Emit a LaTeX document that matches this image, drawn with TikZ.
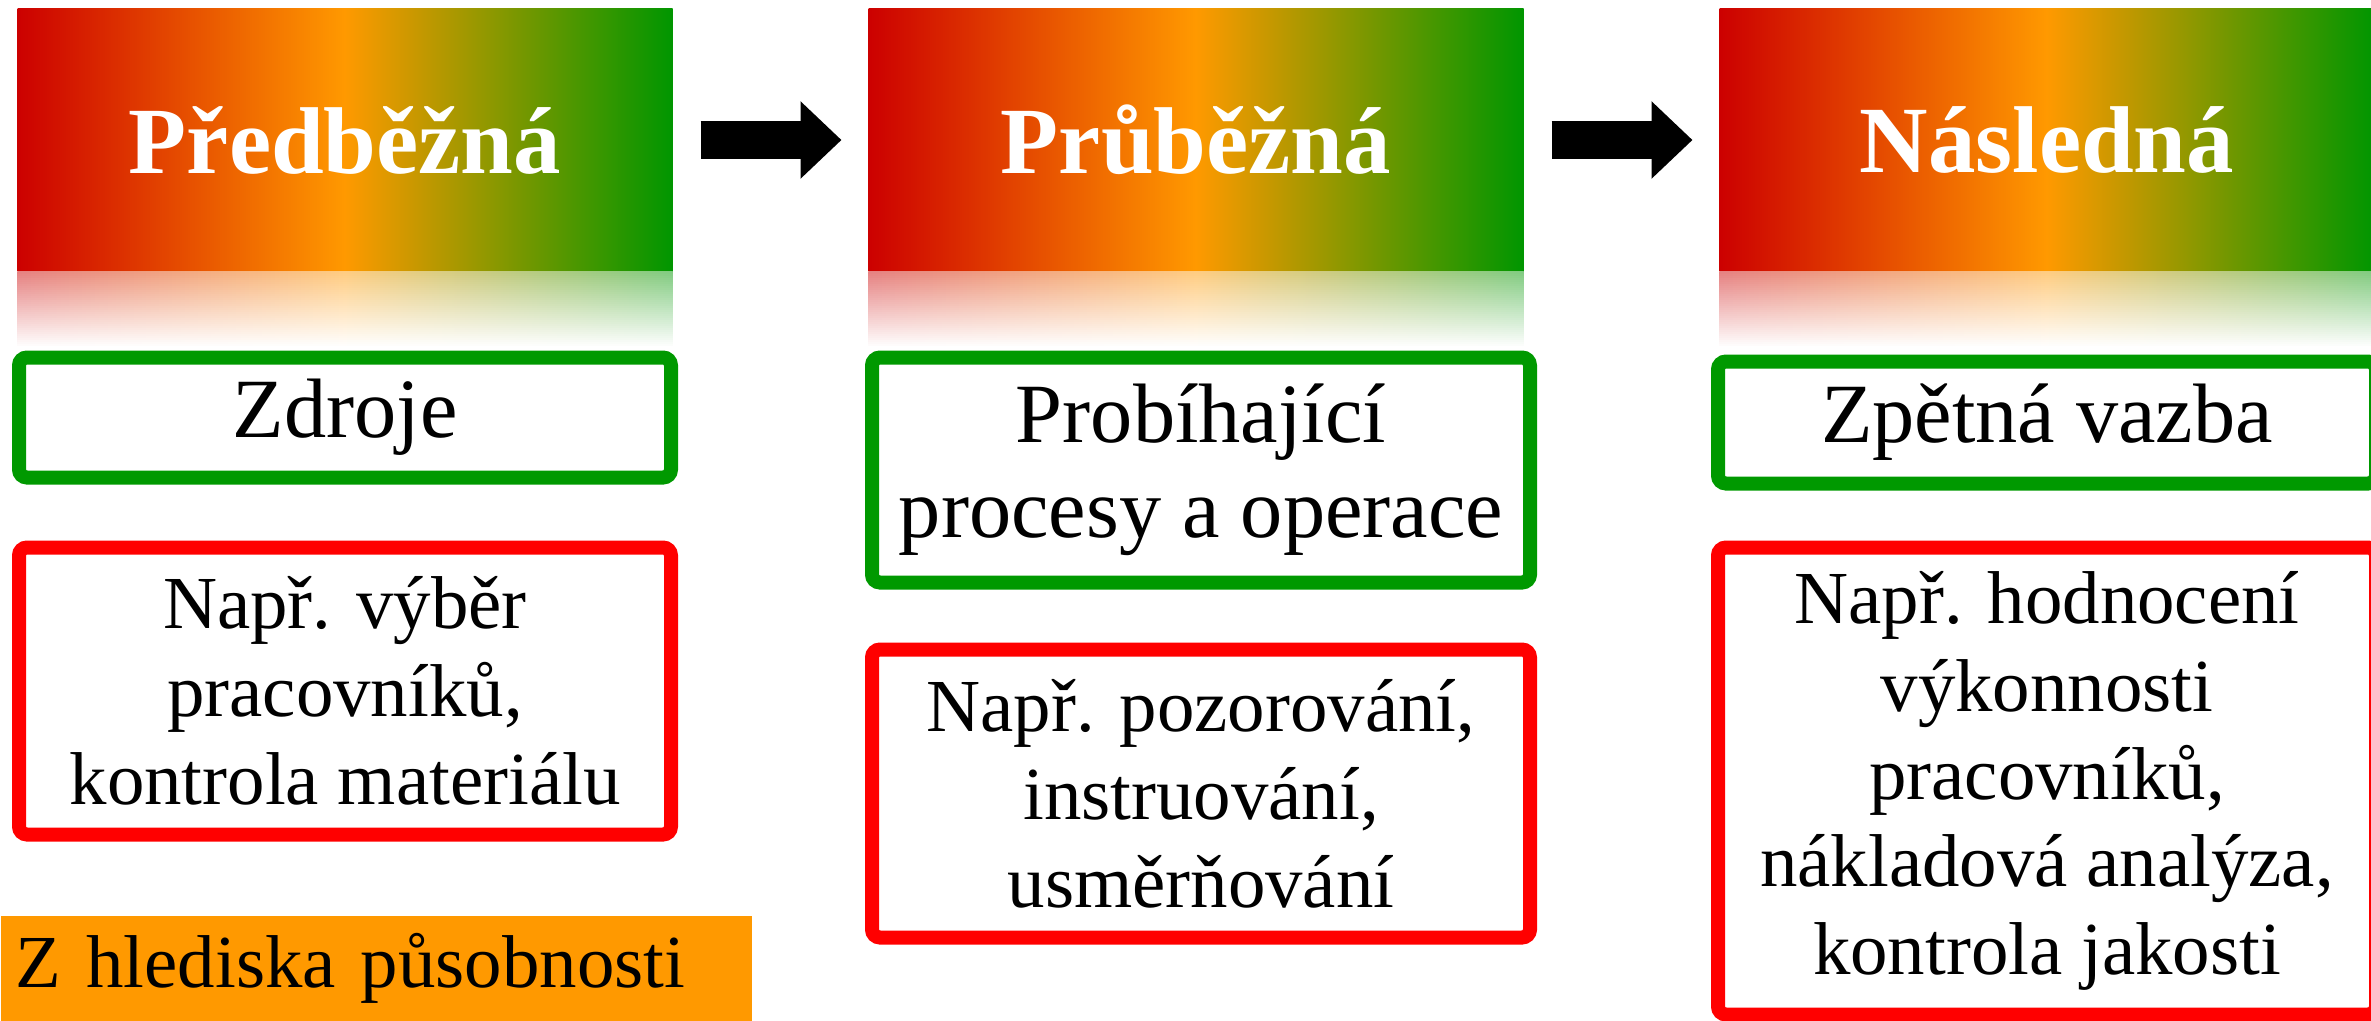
\documentclass[tikz,border=0pt]{standalone}
\usepackage{fontspec}
\setmainfont{Liberation Serif}
\usetikzlibrary{positioning,arrows.meta}

\definecolor{hdrred}{RGB}{204,0,0}
\definecolor{hdrorange}{RGB}{255,153,0}
\definecolor{hdrgreen}{RGB}{0,150,0}
\definecolor{boxgreen}{RGB}{0,153,0}
\definecolor{boxred}{RGB}{255,0,0}
\definecolor{tagorange}{RGB}{255,153,0}

\begin{document}
\begin{tikzpicture}[
    x=0.1mm, y=-0.1mm,
    node distance=1.96cm,
    phase/.style={minimum width=6.55cm, minimum height=2.63cm, inner sep=0pt, outer sep=0pt, left color=hdrred, right color=hdrgreen, middle color=hdrorange, text=white, font=\fontsize{27}{32}\selectfont\bfseries},
    mirror/.style={left color=hdrred!50!white, right color=hdrgreen!50!white, middle color=hdrorange!50!white},
    goal/.style={draw=boxgreen, fill=white, line width=0.14cm, rounded corners=0.08cm, minimum width=6.52cm, align=center, font=\fontsize{24}{27}\selectfont},
    example/.style={goal, draw=boxred, font=\fontsize{21.3}{25}\selectfont},
    arrow/.style={-{Triangle[length=0.41cm, width=0.75cm]}, line width=0.38cm, shorten <=0.28cm, shorten >=0.27cm}
]
\useasboundingbox (0,0) rectangle (2371,1020);

% phases
\node[phase] (pred) at (345,140) {Předběžná};
\node[phase, right=of pred] (prub) {Průběžná};
\node[phase, right=of prub] (nasl) {Následná};

% reflections under the phases, fading out downwards
\foreach \n in {pred,prub,nasl} {
  \fill[mirror] (\n.south west) rectangle ([yshift=-0.76cm]\n.south east);
  \foreach \i [evaluate=\i as \op using (\i+1)/38] in {0,...,37}
    \fill[white, fill opacity=\op] ([xshift=-0.02cm, yshift=-\i*0.02cm]\n.south west) rectangle ([xshift=0.02cm, yshift=-\i*0.02cm-0.021cm]\n.south east);
}

% what is checked
\node[goal, minimum height=1.2cm, below=0.79cm of pred] (zdroje) {Zdroje};
\node[goal, minimum width=6.58cm, minimum height=2.25cm, below=0.79cm of prub, xshift=0.05cm] (procesy) {Probíhající\\procesy a operace};
\node[goal, minimum width=6.58cm, minimum height=1.22cm, below=0.83cm of nasl] (vazba) {Zpětná vazba};

% examples
\node[example, minimum height=2.87cm, below=0.56cm of zdroje] (vyber) {Např. výběr\\pracovníků,\\kontrola materiálu};
\node[example, minimum width=6.58cm, minimum height=2.88cm, below=0.53cm of procesy] (pozor) {Např. pozorování,\\instruování,\\usměrňování};
\node[example, minimum width=6.58cm, minimum height=4.67cm, below=0.50cm of vazba] (hodnoc) {Např. hodnocení\\výkonnosti\\pracovníků,\\nákladová analýza,\\kontrola jakosti};

\node[fill=tagorange, anchor=north west, minimum height=1.05cm, text width=7.21cm, inner xsep=0.15cm, align=left, font=\fontsize{21.3}{25}\selectfont] (hlediska) at (0,915) {Z hlediska působnosti};

\draw[arrow] (pred) -- (prub);
\draw[arrow] (prub) -- (nasl);

\end{tikzpicture}
\end{document}
